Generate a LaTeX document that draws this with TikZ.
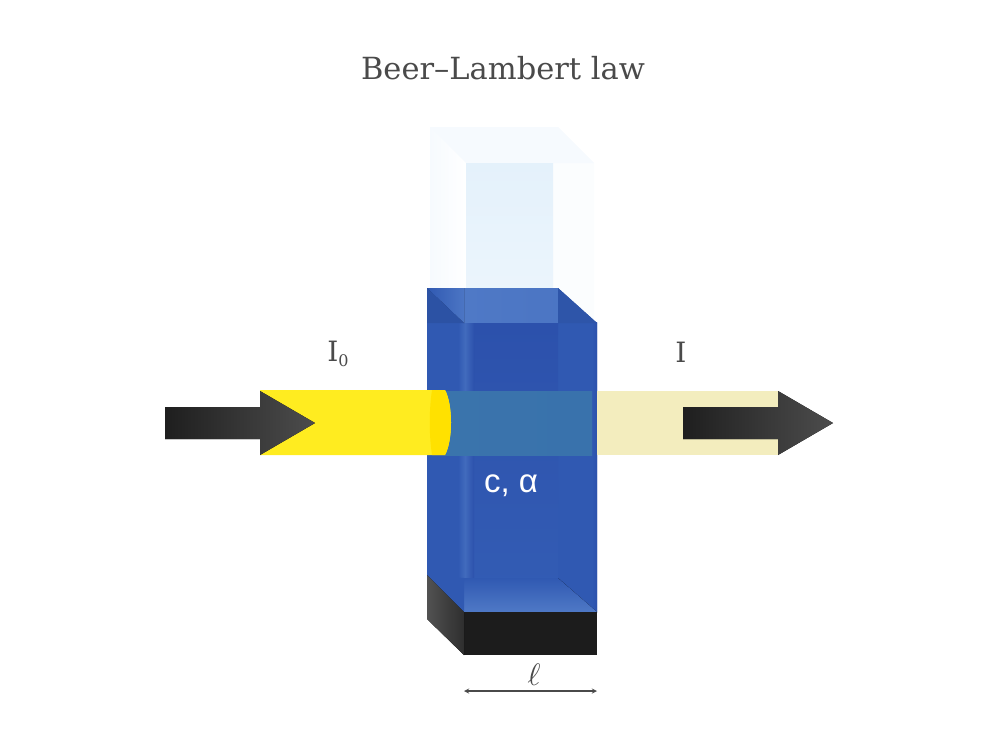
\documentclass[tikz,border=0pt]{standalone}
\usepackage{fontspec}
\setmainfont{DejaVu Serif}
\newfontfamily\labelsans{Liberation Sans}
\usetikzlibrary{calc}
\definecolor{inktext}{HTML}{4A4A4A}
\definecolor{liquid}{HTML}{3059B2}
\definecolor{liquidlight}{HTML}{4F79C6}
\definecolor{liquiddark}{HTML}{2C51AC}
\definecolor{beamin}{HTML}{FFEC20}
\definecolor{beaminside}{HTML}{FFE100}
\definecolor{beamthrough}{HTML}{3A74AC}
\definecolor{beamout}{HTML}{F3EDBE}
\definecolor{glasspale}{HTML}{E4F1FB}
\definecolor{glassfaint}{HTML}{F6FAFE}
\definecolor{basetop}{HTML}{1C1C1C}
\tikzset{
  x=1pt,y=-1pt,
  arrowshade/.style={left color=black!88,right color=black!70,draw=none},
  labeltext/.style={text=inktext,inner sep=0pt},
}
\begin{document}
\begin{tikzpicture}
\useasboundingbox (0,0) rectangle (1000,750);

% key corners of the cuvette
\coordinate (bl) at (427,288);
\coordinate (br) at (558,288);
\coordinate (fr) at (597,323);
\coordinate (frb) at (597,612);
\coordinate (flb) at (464,612);
\coordinate (blb) at (427,575);

% empty glass above the liquid
\fill[left color=glassfaint,right color=white] (430,127) rectangle (466,288);
\fill[glassfaint!40!white] (553,150) -- (594,163) -- (594,323) -- (553,288) -- cycle;
\fill[glassfaint] (430,127) -- (558,127) -- (594,163) -- (466,163) -- cycle;
\fill[top color=glasspale,bottom color=glassfaint!40!glasspale] (466,163) rectangle (553,288);

% liquid body
\fill[liquid] (bl) -- (br) -- (fr) -- (frb) -- (flb) -- (blb) -- cycle;
\fill[top color=liquiddark,bottom color=liquid!92!liquidlight] (466,322) rectangle (558,578);
\fill[left color=liquid,right color=liquidlight!55!liquid] (458,322) rectangle (465,578);
\fill[left color=liquidlight!55!liquid,right color=liquiddark] (465,322) rectangle (474,578);
\fill[left color=liquid,right color=liquiddark] (592,322) rectangle (597,612);

% liquid surface
\fill[left color=liquidlight,right color=liquidlight!88!liquid] (464,288) rectangle (558,322);
\fill[left color=liquid,right color=liquidlight!90!liquid] (427,288) -- (464,288) -- (464,323) -- cycle;
\fill[liquid!92!black] (427,288) -- (464,323) -- (427,323) -- cycle;
\fill[liquid!95!black] (558,288) -- (597,323) -- (558,323) -- cycle;

% cuvette floor seen through the liquid
\fill[top color=liquid,bottom color=liquidlight] (464,578) -- (558,578) -- (597,612) -- (464,612) -- cycle;
\fill[liquid] (427,575) -- (464,578) -- (464,612) -- cycle;

% black base
\fill[basetop] (464,612) rectangle (597,655);
\fill[left color=black!68,right color=black!82] (427,575) -- (464,612) -- (464,655) -- (427,619) -- cycle;

% light beam: incoming part, path through the liquid, outgoing part
\fill[left color=beamthrough,right color=beamthrough!92!liquid] (445,391) rectangle (592,455);
\fill[beamout] (597,391) rectangle (779,455);
\fill[beamin] (260,390) -- (445,390) .. controls (453,405) and (453,440) .. (445,455) -- (260,455) -- cycle;
\fill[beaminside] (432,390) -- (445,390) .. controls (453,405) and (453,440) .. (445,455) -- (432,455) .. controls (429,435) and (429,410) .. (432,390) -- cycle;

% black arrows
\fill[arrowshade] (165,407) -- (260,407) -- (260,391) -- (315,423) -- (260,455) -- (260,439) -- (165,439) -- cycle;
\fill[arrowshade] (683,407) -- (778,407) -- (778,391) -- (833,423) -- (778,455) -- (778,439) -- (683,439) -- cycle;

% labels
\node[labeltext,font=\fontsize{30.5}{32}\selectfont] (title) at (503,68) {Beer–Lambert law};
\node[labeltext,font=\fontsize{28}{30}\selectfont] (izero) at (338,354) {I\raisebox{-5pt}{\fontsize{16}{16}\selectfont 0}};
\node[labeltext,font=\fontsize{28}{30}\selectfont] (iout) at (681,352) {I};
\node[text=white,inner sep=0pt,font=\labelsans\fontsize{33}{35}\selectfont] (conc) at (511,486) {c, α};
\node[labeltext] (ell) at (534,675) {\scalebox{3.1}{$\ell$}};

% path length marker
\coordinate (pathstart) at (464,691);
\coordinate (pathend) at (597,691);
\draw[inktext,line width=1.3pt,<->,>=stealth] (pathstart) -- (pathend);
\end{tikzpicture}
\end{document}
